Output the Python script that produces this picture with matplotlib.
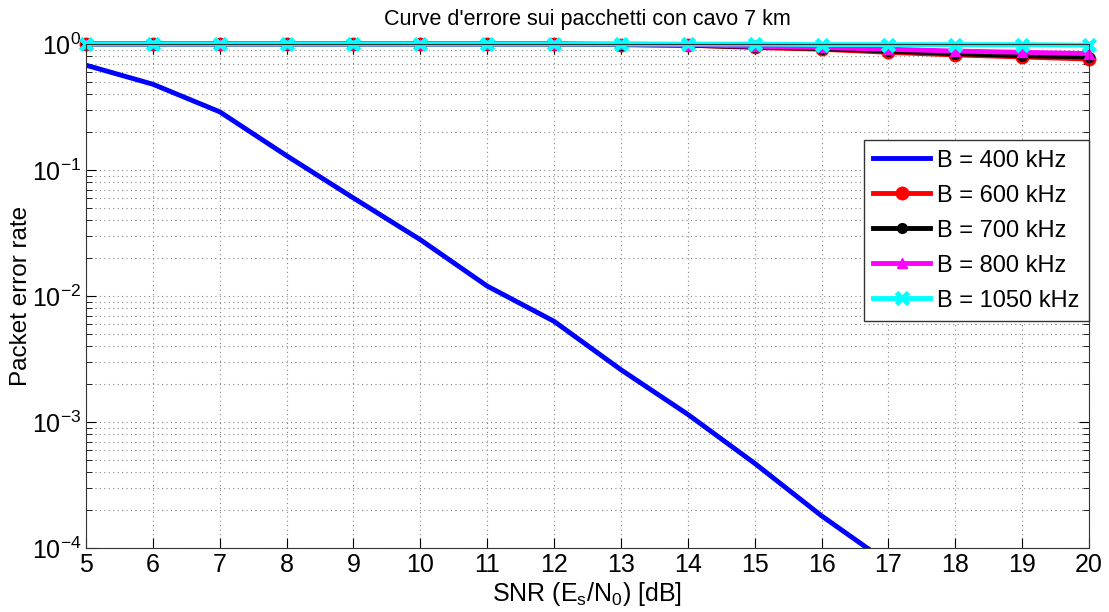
import matplotlib.pyplot as plt
import numpy as np

plt.rcParams['font.family'] = ['Liberation Sans', 'DejaVu Sans']
plt.rcParams['mathtext.fontset'] = 'custom'
plt.rcParams['mathtext.rm'] = 'Liberation Sans'
plt.rcParams['mathtext.it'] = 'Liberation Sans:italic'

snr = [5, 6, 7, 8, 9, 10, 11, 12, 13, 14, 15, 16, 17, 18, 19, 20]

per_400 = [0.68, 0.48, 0.29, 0.13, 0.060, 0.028, 0.012, 0.0063, 0.0026,
           0.00115, 0.00047, 0.00018, 0.000076, np.nan, np.nan, np.nan]
per_600 = [1.0, 1.0, 1.0, 1.0, 1.0, 1.0, 1.0, 1.0, 0.99, 0.98,
           0.94, 0.91, 0.86, 0.82, 0.79, 0.76]
per_700 = [1.0, 1.0, 1.0, 1.0, 1.0, 1.0, 1.0, 1.0, 0.99, 0.98,
           0.95, 0.92, 0.88, 0.84, 0.81, 0.79]
per_800 = [1.0, 1.0, 1.0, 1.0, 1.0, 1.0, 1.0, 1.0, 1.0, 0.99,
           0.96, 0.94, 0.91, 0.88, 0.86, 0.84]
per_1050 = [1.0, 1.0, 1.0, 1.0, 1.0, 1.0, 1.0, 1.0, 1.0, 1.0,
            1.0, 0.99, 0.99, 0.99, 0.99, 0.98]

fig = plt.figure(figsize=(11.09, 6.12), dpi=100)
ax = fig.add_axes([0.0775, 0.1046, 0.9045, 0.8234])

ax.semilogy(snr, per_400, color='#0000ff', lw=3.5, label='B = 400 kHz')
ax.semilogy(snr, per_600, color='#ff0000', lw=3.5, marker='o', ms=9,
            label='B = 600 kHz', clip_on=False)
ax.semilogy(snr, per_700, color='#000000', lw=3.5, marker='o', ms=7,
            label='B = 700 kHz', clip_on=False)
ax.semilogy(snr, per_800, color='#ff00ff', lw=3.5, marker='^', ms=7,
            label='B = 800 kHz', clip_on=False)
ax.semilogy(snr, per_1050, color='#00ffff', lw=3.5, marker='x', ms=9, mew=3.5,
            label='B = 1050 kHz', clip_on=False)

ax.set_xlim(5, 20)
ax.set_ylim(1e-4, 1)
ax.set_xticks(range(5, 21))
ax.grid(True, which='major', ls=(0, (1, 3)), color='#888888', lw=0.8)
ax.grid(True, which='minor', axis='y', ls=(0, (1, 3)), color='#888888', lw=0.8)
ax.tick_params(which='both', direction='in', top=True, right=True, labelsize=18)
ax.tick_params(which='major', length=7)
ax.tick_params(which='minor', length=4)
for s in ax.spines.values():
    s.set_color('#333333')

ax.set_title("Curve d'errore sui pacchetti con cavo 7 km", fontsize=15.5, pad=14)
ax.set_xlabel('SNR (E$_\\mathrm{s}$/N$_0$) [dB]', fontsize=18, labelpad=2)
ax.set_ylabel('Packet error rate', fontsize=17.5, labelpad=0)

leg = ax.legend(loc='upper right', bbox_to_anchor=(1.0, 0.809), borderaxespad=0,
                fontsize=17, fancybox=False, edgecolor='#333333',
                framealpha=1, handlelength=2.4, handletextpad=0.3,
                borderpad=0.4, labelspacing=0.55)
leg.get_frame().set_linewidth(1)

fig.savefig('out.png', dpi=100)
